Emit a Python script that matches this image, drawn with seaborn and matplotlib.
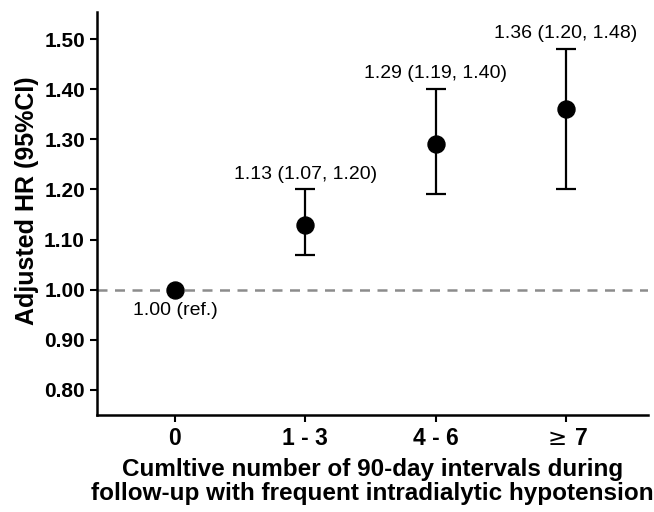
import numpy as np
import pandas as pd
import matplotlib
matplotlib.use("Agg")
import matplotlib.pyplot as plt
import seaborn as sns

groups = ["0", "1 - 3", "4 - 6", "$\\geq\\,$7"]
hr = [1.00, 1.13, 1.29, 1.36]
lower = [1.00, 1.07, 1.19, 1.20]
upper = [1.00, 1.20, 1.40, 1.48]
labels = ["1.00 (ref.)", "1.13 (1.07, 1.20)", "1.29 (1.19, 1.40)", "1.36 (1.20, 1.48)"]

df = pd.DataFrame({"group": groups, "hr": hr, "lower": lower, "upper": upper})
df["x"] = np.arange(len(df))

sns.set_style("ticks")
plt.rcParams["font.family"] = ["Liberation Sans", "DejaVu Sans"]
plt.rcParams["text.color"] = "black"
plt.rcParams["axes.labelcolor"] = "black"
plt.rcParams["mathtext.fontset"] = "dejavusans"

fig, ax = plt.subplots(figsize=(6.54, 5.12), dpi=100)
fig.subplots_adjust(left=0.148, right=0.991, top=0.977, bottom=0.19)

ax.axhline(1.0, color="#8c8c8c", linestyle=(0, (4, 3)), linewidth=1.8, zorder=1)

# CI bars (ref group has none)
ci = df[df["hr"] != df["upper"]]
ax.errorbar(ci["x"], ci["hr"],
            yerr=[ci["hr"] - ci["lower"], ci["upper"] - ci["hr"]],
            fmt="none", ecolor="black", elinewidth=1.6, capsize=7, capthick=1.6, zorder=2)
sns.scatterplot(data=df, x="x", y="hr", color="black", s=150, edgecolor="black",
                ax=ax, zorder=3, legend=False)

for i, row in df.iterrows():
    if i == 0:
        ax.annotate(labels[i], (row["x"], row["hr"]), xytext=(0, -9),
                    textcoords="offset points", ha="center", va="top", fontsize=14)
    else:
        ax.annotate(labels[i], (row["x"], row["upper"]), xytext=(0, 5),
                    textcoords="offset points", ha="center", va="bottom", fontsize=14)

ax.set_xlim(-0.6, 3.63)
ax.set_ylim(0.75, 1.555)
ax.set_xticks(df["x"])
ax.set_xticklabels(groups, fontsize=16.5, fontweight="bold")
yt = [0.8, 0.9, 1.0, 1.1, 1.2, 1.3, 1.4, 1.5]
ax.set_yticks(yt)
ax.set_yticklabels([f"{v:.2f}" for v in yt], fontsize=15, fontweight="bold")
ax.tick_params(width=1.5, length=5, colors="black")
for s in ["left", "bottom"]:
    ax.spines[s].set_linewidth(1.8)
    ax.spines[s].set_color("black")
sns.despine(ax=ax)

ax.set_ylabel("Adjusted HR (95%CI)", fontsize=18, fontweight="bold")
ax.yaxis.set_label_coords(-0.105, 0.53)
ax.set_xlabel("Cumltive number of 90-day intervals during\nfollow-up with frequent intradialytic hypotension",
              fontsize=17.5, fontweight="bold", labelpad=6, linespacing=1.05)

fig.savefig("out.png", dpi=100)
